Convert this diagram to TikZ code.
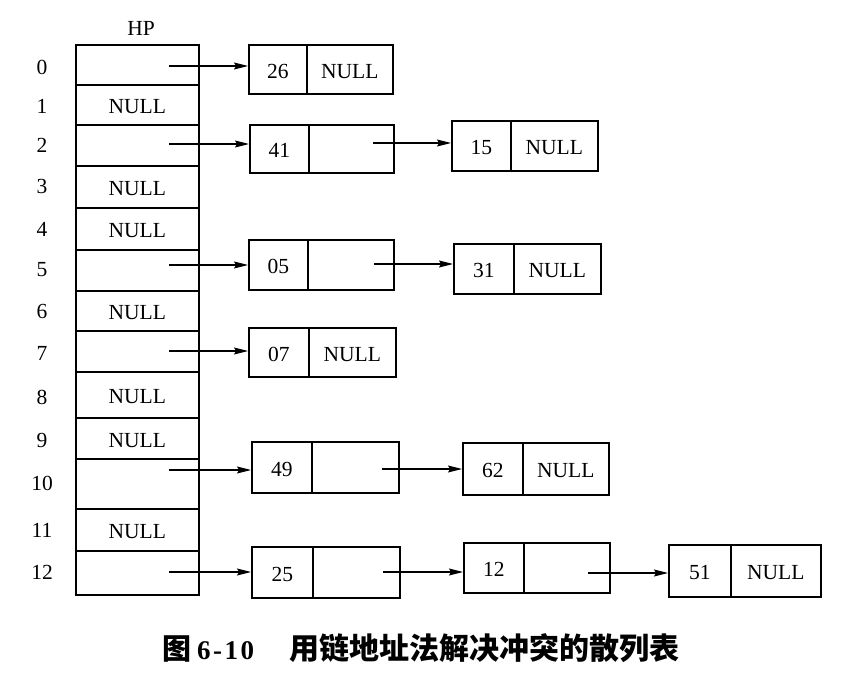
\documentclass[tikz,border=0pt]{standalone}
\usepackage{fontspec}
\setmainfont{Liberation Serif}
\newfontfamily\cjk{Noto Sans CJK SC}
\usetikzlibrary{arrows.meta}
\begin{document}
\begin{tikzpicture}[x=1pt,y=-1pt,
  box/.style={draw,line width=1.6pt,anchor=north west,inner sep=0pt,
    text height=18pt,text depth=0pt,
    font=\fontsize{21.5}{24}\selectfont},
  ptr/.style={line width=1.2pt,-{Stealth[length=14pt,width=7pt,inset=2pt]}},
  idx/.style={font=\fontsize{21.5}{24}\selectfont,inner sep=0pt},
  captext/.style={inner sep=0pt,anchor=west}
]
\useasboundingbox (0,0) rectangle (852,674);
% HP column
\node[idx] (hp) at (141,28) {HP};
\node[box,minimum width=123pt,minimum height=40pt] (h0) at (75,44) {};
\node[box,minimum width=123pt,minimum height=40pt] (h1) at (75,84) {NULL};
\node[box,minimum width=123pt,minimum height=41pt] (h2) at (75,124) {};
\node[box,minimum width=123pt,minimum height=42pt] (h3) at (75,165) {NULL};
\node[box,minimum width=123pt,minimum height=42pt] (h4) at (75,207) {NULL};
\node[box,minimum width=123pt,minimum height=41pt] (h5) at (75,249) {};
\node[box,minimum width=123pt,minimum height=40pt] (h6) at (75,290) {NULL};
\node[box,minimum width=123pt,minimum height=41pt] (h7) at (75,330) {};
\node[box,minimum width=123pt,minimum height=46pt] (h8) at (75,371) {NULL};
\node[box,minimum width=123pt,minimum height=41pt] (h9) at (75,417) {NULL};
\node[box,minimum width=123pt,minimum height=50pt] (h10) at (75,458) {};
\node[box,minimum width=123pt,minimum height=42pt] (h11) at (75,508) {NULL};
\node[box,minimum width=123pt,minimum height=44pt] (h12) at (75,550) {};
% indices
\node[idx] (i0) at (42,67) {0};
\node[idx] (i1) at (42,106) {1};
\node[idx] (i2) at (42,145) {2};
\node[idx] (i3) at (42,186) {3};
\node[idx] (i4) at (42,229) {4};
\node[idx] (i5) at (42,270) {5};
\node[idx] (i6) at (42,311) {6};
\node[idx] (i7) at (42,353) {7};
\node[idx] (i8) at (42,397) {8};
\node[idx] (i9) at (42,440) {9};
\node[idx] (i10) at (42,483) {10};
\node[idx] (i11) at (42,530) {11};
\node[idx] (i12) at (42,572) {12};
% list nodes
\node[box,minimum width=58pt,minimum height=49pt] (v26) at (248,44) {26};
\node[box,minimum width=86pt,minimum height=49pt] (p26) at (306,44) {NULL};
\node[box,minimum width=59pt,minimum height=48pt] (v41) at (249,124) {41};
\node[box,minimum width=85pt,minimum height=48pt] (p41) at (308,124) {};
\node[box,minimum width=59pt,minimum height=50pt] (v05) at (248,239) {05};
\node[box,minimum width=86pt,minimum height=50pt] (p05) at (307,239) {};
\node[box,minimum width=60pt,minimum height=49pt] (v07) at (248,327) {07};
\node[box,minimum width=87pt,minimum height=49pt] (p07) at (308,327) {NULL};
\node[box,minimum width=60pt,minimum height=51pt] (v49) at (251,441) {49};
\node[box,minimum width=87pt,minimum height=51pt] (p49) at (311,441) {};
\node[box,minimum width=61pt,minimum height=51pt] (v25) at (251,546) {25};
\node[box,minimum width=87pt,minimum height=51pt] (p25) at (312,546) {};
\node[box,minimum width=59pt,minimum height=50pt] (v15) at (451,120) {15};
\node[box,minimum width=87pt,minimum height=50pt] (p15) at (510,120) {NULL};
\node[box,minimum width=60pt,minimum height=50pt] (v31) at (453,243) {31};
\node[box,minimum width=87pt,minimum height=50pt] (p31) at (513,243) {NULL};
\node[box,minimum width=60pt,minimum height=52pt] (v62) at (462,442) {62};
\node[box,minimum width=86pt,minimum height=52pt] (p62) at (522,442) {NULL};
\node[box,minimum width=60pt,minimum height=50pt] (v12) at (463,542) {12};
\node[box,minimum width=86pt,minimum height=50pt] (p12) at (523,542) {};
\node[box,minimum width=62pt,minimum height=52pt] (v51) at (668,544) {51};
\node[box,minimum width=90pt,minimum height=52pt] (p51) at (730,544) {NULL};
% pointer starts
\coordinate (s0) at (169,66);
\coordinate (s2) at (169,144);
\coordinate (s5) at (169,265);
\coordinate (s7) at (169,351);
\coordinate (s10) at (169,470);
\coordinate (s12) at (169,572);
\coordinate (t41) at (373,143);
\coordinate (t05) at (374,264);
\coordinate (t49) at (382,469);
\coordinate (t25) at (383,572);
\coordinate (t12) at (588,573);
\draw[ptr] (s0) -- (s0 -| v26.west);
\draw[ptr] (s2) -- (s2 -| v41.west);
\draw[ptr] (s5) -- (s5 -| v05.west);
\draw[ptr] (s7) -- (s7 -| v07.west);
\draw[ptr] (s10) -- (s10 -| v49.west);
\draw[ptr] (s12) -- (s12 -| v25.west);
\draw[ptr] (t41) -- (t41 -| v15.west);
\draw[ptr] (t05) -- (t05 -| v31.west);
\draw[ptr] (t49) -- (t49 -| v62.west);
\draw[ptr] (t25) -- (t25 -| v12.west);
\draw[ptr] (t12) -- (t12 -| v51.west);
% caption
\node[captext] (caption) at (162,648) {{\fontsize{29}{32}\selectfont\cjk\bfseries 图}\hspace{6pt}{\fontsize{27}{32}\selectfont\bfseries 6\hspace{2.5pt}-\hspace{2.5pt}1\hspace{2.5pt}0}\hspace{35pt}{\fontsize{30}{32}\selectfont\cjk\bfseries 用链地址法解决冲突的散列表}};
\end{tikzpicture}
\end{document}
